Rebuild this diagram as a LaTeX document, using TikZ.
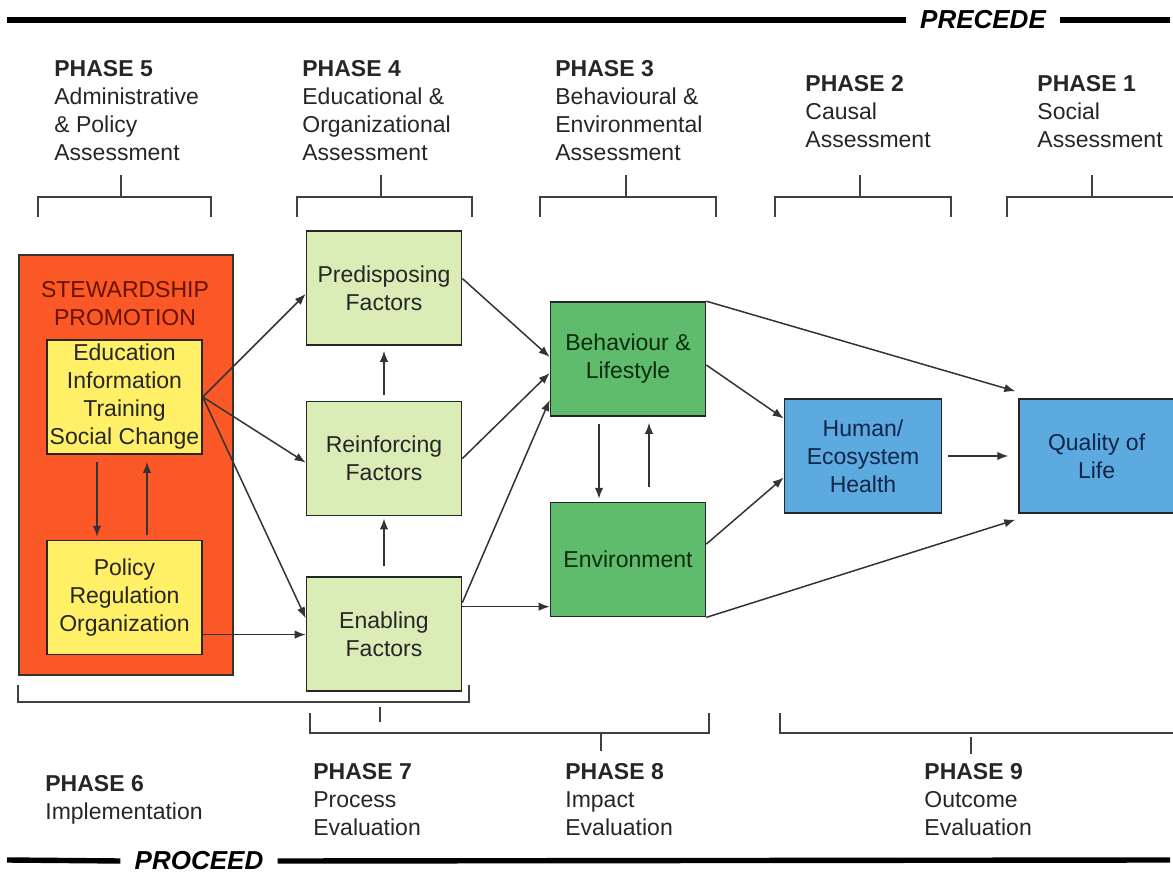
\documentclass[tikz,border=0pt]{standalone}
\usepackage{fontspec}
\setmainfont{Liberation Sans}
\usetikzlibrary{arrows.meta, positioning, calc}

\definecolor{stewred}{RGB}{250,88,38}
\definecolor{stewtext}{RGB}{104,18,0}
\definecolor{eduyellow}{RGB}{255,240,104}
\definecolor{factgreen}{RGB}{218,237,183}
\definecolor{behgreen}{RGB}{94,188,108}
\definecolor{healthblue}{RGB}{92,170,224}
\definecolor{navytext}{RGB}{16,38,72}
\definecolor{darkgreentext}{RGB}{12,44,14}

\begin{document}
\begin{tikzpicture}[
  x=0.5pt, y=-0.5pt,
  >={Latex[length=5.5pt,width=4.2pt]},
  box/.style={draw=black!85, line width=0.8pt, minimum width=77.5pt, minimum height=57pt, inner sep=0pt, align=center, font=\fontsize{11.5}{14}\selectfont},
  stewbox/.style={draw=black!80, line width=0.8pt, fill=stewred, minimum width=107pt, minimum height=210pt, inner sep=0pt},
  edubox/.style={box, fill=eduyellow, text=black!85},
  factbox/.style={box, fill=factgreen, text=black!85},
  behbox/.style={box, fill=behgreen, text=darkgreentext},
  healthbox/.style={box, fill=healthblue, text=navytext, minimum width=78.5pt},
  phase/.style={anchor=north west, inner sep=0pt, align=left, font=\fontsize{11.5}{14}\selectfont, text=black!85},
  bartext/.style={inner xsep=7pt, inner ysep=0pt, font=\fontsize{13}{14}\selectfont\bfseries\itshape},
  bar/.style={line width=2.7pt, black},
  bracket/.style={line width=0.75pt, black!75},
  flow/.style={->, line width=0.75pt, black!80}
]
\useasboundingbox (0,0) rectangle (1173,876);

% PRECEDE / PROCEED bars
\node[bartext] (precede) at (983,20) {PRECEDE};
\draw[bar] (7,20) -- (precede.west);
\draw[bar] (precede.east) -- (1170,20);
\node[bartext] (proceed) at (199,861) {PROCEED};
\draw[bar] (7,860) -- (proceed.west);
\draw[bar] (proceed.east) -- (1170,860);

% Assessment phases
\node[phase] (ph5) at (54,60)  {\textbf{PHASE 5}\\Administrative\\\& Policy\\Assessment};
\node[phase] (ph4) at (302,60) {\textbf{PHASE 4}\\Educational \&\\Organizational\\Assessment};
\node[phase] (ph3) at (555,60) {\textbf{PHASE 3}\\Behavioural \&\\Environmental\\Assessment};
\node[phase] (ph2) at (805,75) {\textbf{PHASE 2}\\Causal\\Assessment};
\node[phase] (ph1) at (1037,75) {\textbf{PHASE 1}\\Social\\Assessment};

% Evaluation phases
\node[phase] (ph6) at (45,775)  {\textbf{PHASE 6}\\Implementation};
\node[phase] (ph7) at (313,763) {\textbf{PHASE 7}\\Process\\Evaluation};
\node[phase] (ph8) at (565,763) {\textbf{PHASE 8}\\Impact\\Evaluation};
\node[phase] (ph9) at (924,763) {\textbf{PHASE 9}\\Outcome\\Evaluation};

% Top brackets
\foreach \l/\m/\r in {38/121/211, 297/381/472, 540/626/716, 775/860/951}{
  \draw[bracket] (\l,217) -- (\l,197) -- (\r,197) -- (\r,217);
  \draw[bracket] (\m,175) -- (\m,197);
}
\draw[bracket] (1007,217) -- (1007,197) -- (1173,197);
\draw[bracket] (1092,175) -- (1092,197);

% Bottom brackets
\draw[bracket] (18,685) -- (18,702) -- (469,702) -- (469,685);
\draw[bracket] (380,707) -- (380,722);
\draw[bracket] (310,713) -- (310,733) -- (709,733) -- (709,713);
\draw[bracket] (601,733) -- (601,751);
\draw[bracket] (780,713) -- (780,733) -- (1173,733);
\draw[bracket] (971,737) -- (971,754);

% Stewardship promotion
\node[stewbox] (steward) at (126,465) {};
\node[align=center, text=stewtext, font=\fontsize{11.5}{14}\selectfont] (stewlabel) at (125,304) {STEWARDSHIP\\PROMOTION};
\node[edubox] (edu) at (124.5,397) {Education\\Information\\Training\\Social Change};
\node[edubox] (policy) [below=42.5pt of edu] {Policy\\Regulation\\Organization};

% Factors
\node[factbox] (predis) at (384,288) {Predisposing\\Factors};
\node[factbox] (reinf)  [below=27.5pt of predis] {Reinforcing\\Factors};
\node[factbox] (enab)   [below=30pt of reinf] {Enabling\\Factors};

% Behaviour and environment
\node[behbox] (behav) at (628,359) {Behaviour \&\\Lifestyle};
\node[behbox] (envir) [below=42.5pt of behav] {Environment};

% Health and quality of life
\node[healthbox] (human)   at (863,456) {Human/\\Ecosystem\\Health};
\node[healthbox] (quality) [right=38pt of human, minimum width=77.5pt] {Quality of\\Life};

% Flows

% 1. Stewardship to factors
\draw[flow] (edu.east) -- ([yshift=-3pt]predis.west);
\draw[flow] (edu.east) -- ([yshift=-2pt]reinf.west);
\draw[flow] (edu.east) -- ([yshift=8pt]enab.west);
\coordinate (polout) at ([yshift=-18.5pt]policy.east);
\draw[flow] (polout) -- (polout -| enab.west);
\draw[flow, shorten <=3.5pt, shorten >=1.5pt] ([xshift=-13.75pt]edu.south) -- ([xshift=-13.75pt]policy.north);
\draw[flow, shorten <=2.5pt, shorten >=3.5pt] ([xshift=11.25pt]policy.north) -- ([xshift=11.25pt]edu.south);

% 2. Between factors
\draw[flow, shorten <=3pt, shorten >=2.5pt] (reinf.north) -- (reinf.north |- predis.south);
\draw[flow, shorten <=5pt, shorten >=1pt] (enab.north) -- (reinf.south);

% 3. Factors to behaviour and environment
\draw[flow] ([yshift=4.75pt]predis.east) -- ([yshift=1pt]behav.west);
\draw[flow] (reinf.east) -- ([yshift=-7pt]behav.west);
\draw[flow] ([yshift=15.75pt]enab.east) -- ([yshift=-20.5pt]behav.west);
\coordinate (enabout) at ([yshift=13.75pt]enab.east);
\draw[flow] (enabout) -- (enabout -| envir.west);
\draw[flow, shorten <=3.5pt, shorten >=1.5pt] ([xshift=-14.5pt]behav.south) -- ([xshift=-14.5pt]envir.north);
\draw[flow, shorten <=7.5pt, shorten >=3pt] ([xshift=10.5pt]envir.north) -- ([xshift=10.5pt]behav.south);

% 4. To health and quality of life
\draw[flow] ([yshift=-3pt]behav.east) -- ([yshift=18.75pt]human.west);
\draw[flow] ([yshift=7.75pt]envir.east) -- ([yshift=-10.75pt]human.west);
\draw[flow] (behav.north east) -- ([shift={(-1.5pt,3.5pt)}]quality.north west);
\draw[flow] (envir.south east) -- ([shift={(-1.5pt,-3pt)}]quality.south west);
\draw[flow, shorten <=3pt, shorten >=5pt] (human.east) -- (quality.west);
\end{tikzpicture}
\end{document}
